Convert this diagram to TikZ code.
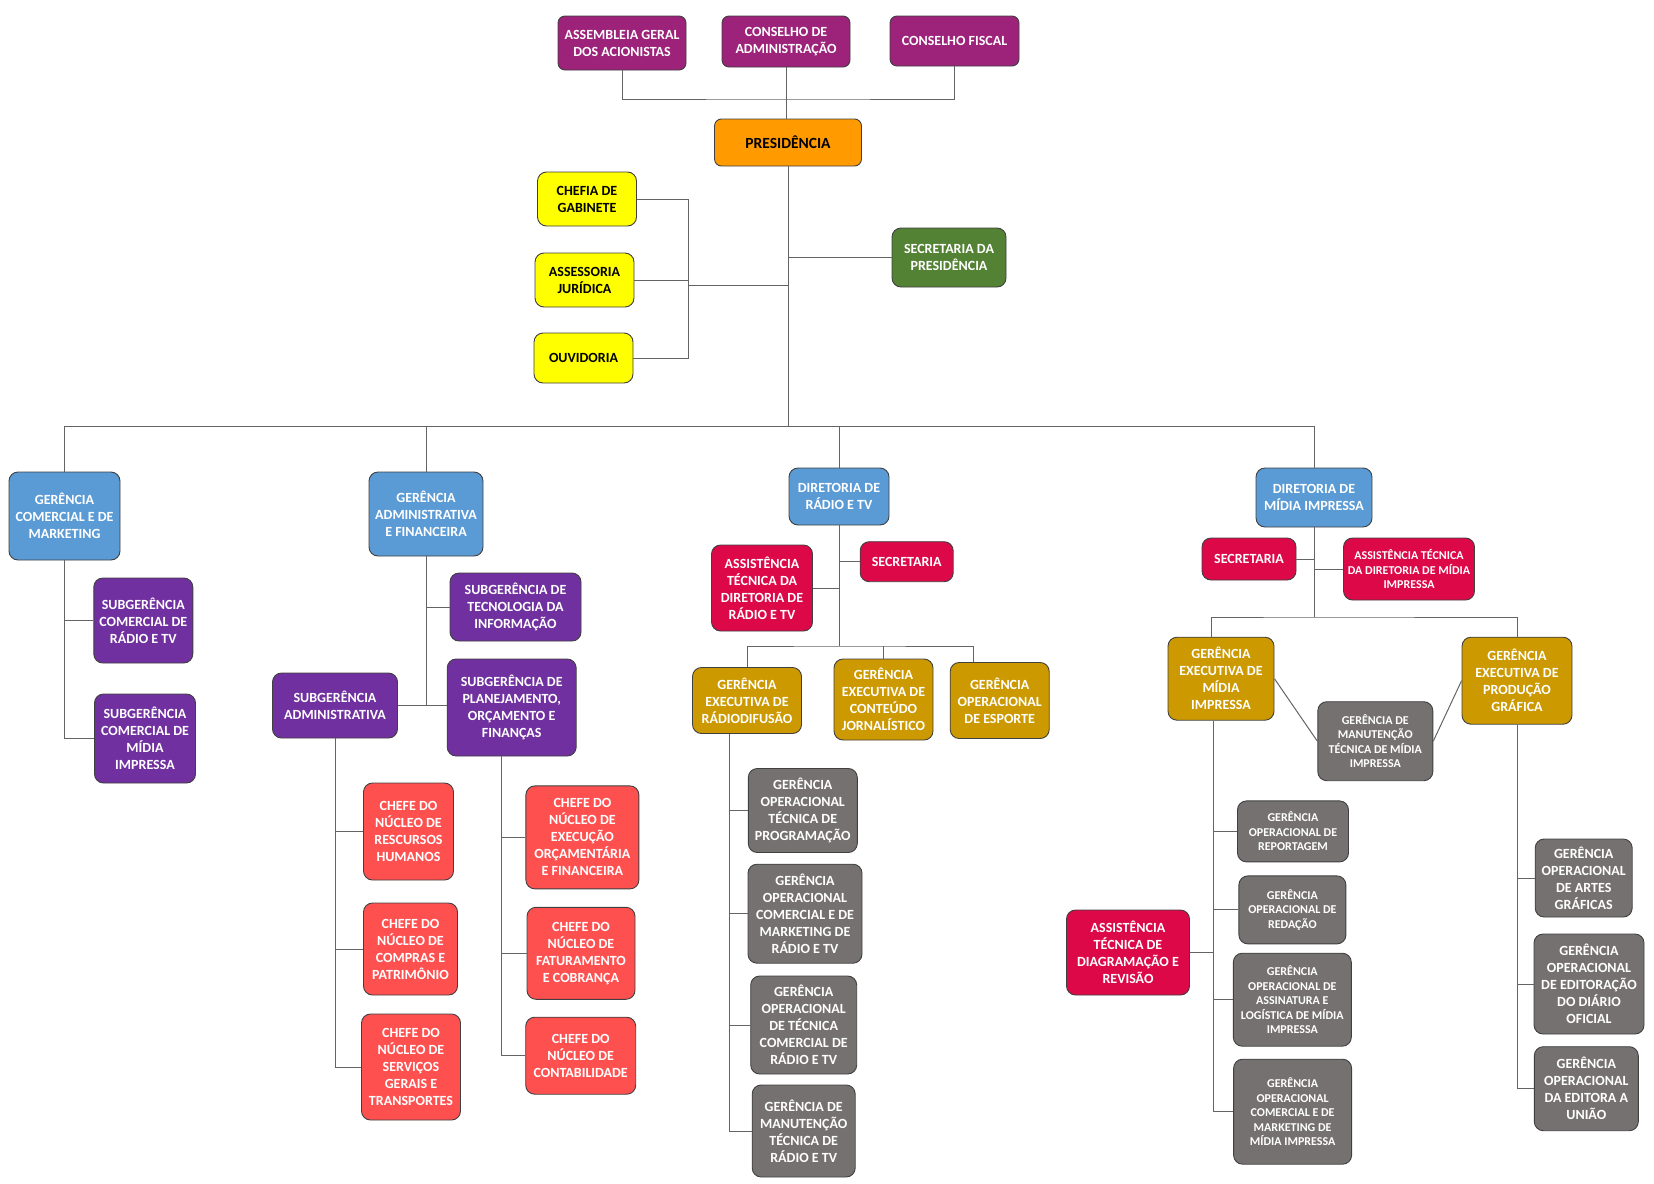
\documentclass[tikz,border=0pt]{standalone}
\usepackage{fontspec}
\setmainfont{Carlito}
\definecolor{boardpurple}{RGB}{156,34,122}
\definecolor{presorange}{RGB}{255,154,0}
\definecolor{staffyellow}{RGB}{255,255,0}
\definecolor{secgreen}{RGB}{84,130,53}
\definecolor{dirblue}{RGB}{91,155,213}
\definecolor{subviolet}{RGB}{112,48,160}
\definecolor{chiefred}{RGB}{255,80,80}
\definecolor{assistcrimson}{RGB}{220,8,72}
\definecolor{execgold}{RGB}{204,153,0}
\definecolor{opergray}{RGB}{118,113,113}
\definecolor{edgegray}{RGB}{64,64,64}
\definecolor{linegray}{RGB}{100,100,100}
\usepackage{tikz}

\begin{document}
\begin{tikzpicture}[x=1pt,y=-1pt,
  box/.style={draw=edgegray,line width=0.9pt,rounded corners=9pt,align=center,text=white,inner sep=1pt,
    font=\bfseries\fontsize{14}{17}\selectfont},
  small/.style={font=\bfseries\fontsize{12}{14.5}\selectfont},
  sz/.style 2 args={minimum width=#1pt,minimum height=#2pt},
  boardbox/.style={box,fill=boardpurple,rounded corners=7pt},
  presbox/.style={box,fill=presorange,text=black,rounded corners=7pt,font=\bfseries\fontsize{15.5}{18}\selectfont},
  staffbox/.style={box,fill=staffyellow,text=black},
  secbox/.style={box,fill=secgreen},
  dirbox/.style={box,fill=dirblue},
  subbox/.style={box,fill=subviolet},
  chiefbox/.style={box,fill=chiefred},
  assistbox/.style={box,fill=assistcrimson},
  execbox/.style={box,fill=execgold},
  operbox/.style={box,fill=opergray},
  link/.style={draw=linegray,line width=1pt}]
\useasboundingbox (0,0) rectangle (1654,1183);

% conselhos e presidencia
\node[boardbox,sz={128}{54}] (assembleia) at (622,43) {ASSEMBLEIA GERAL\\DOS ACIONISTAS};
\node[boardbox,sz={128}{51}] (conselhoadm) at (786,41.5) {CONSELHO DE\\ADMINISTRAÇÃO};
\node[boardbox,sz={129}{50}] (conselhofiscal) at (954.5,41) {CONSELHO FISCAL};
\node[presbox,sz={147}{47}] (presid) at (788,142.5) {PRESIDÊNCIA};
\node[staffbox,sz={99}{54}] (chefia) at (587,199) {CHEFIA DE\\GABINETE};
\node[staffbox,sz={99}{54}] (assessoria) at (584.5,280) {ASSESSORIA\\JURÍDICA};
\node[staffbox,sz={99}{50}] (ouvidoria) at (583.5,358) {OUVIDORIA};
\node[secbox,sz={114}{59}] (secpres) at (949,257.5) {SECRETARIA DA\\PRESIDÊNCIA};

% primeiro nivel
\node[dirbox,sz={111}{88}] (gcm) at (64.5,516) {GERÊNCIA\\COMERCIAL E DE\\MARKETING};
\node[dirbox,sz={114}{84}] (gaf) at (426,514) {GERÊNCIA\\ADMINISTRATIVA\\E FINANCEIRA};
\node[dirbox,sz={100}{57}] (drtv) at (839,496.5) {DIRETORIA DE\\RÁDIO E TV};
\node[dirbox,sz={116}{59}] (dmi) at (1314,497.5) {DIRETORIA DE\\MÍDIA IMPRESSA};

% comercial e administrativa
\node[subbox,sz={99}{85}] (scrtv) at (143.3,620.5) {SUBGERÊNCIA\\COMERCIAL DE\\RÁDIO E TV};
\node[subbox,sz={101}{89}] (scmi) at (145,738.5) {SUBGERÊNCIA\\COMERCIAL DE\\MÍDIA\\IMPRESSA};
\node[subbox,sz={131}{68}] (sti) at (515.5,607) {SUBGERÊNCIA DE\\TECNOLOGIA DA\\INFORMAÇÃO};
\node[subbox,sz={125}{65}] (sa) at (335,705.5) {SUBGERÊNCIA\\ADMINISTRATIVA};
\node[subbox,sz={129}{97}] (spof) at (511.7,707.5) {SUBGERÊNCIA DE\\PLANEJAMENTO,\\ORÇAMENTO E\\FINANÇAS};
\node[chiefbox,sz={90}{97}] (rh) at (408.5,831.5) {CHEFE DO\\NÚCLEO DE\\RESCURSOS\\HUMANOS};
\node[chiefbox,sz={94}{92}] (compras) at (410.5,949) {CHEFE DO\\NÚCLEO DE\\COMPRAS E\\PATRIMÔNIO};
\node[chiefbox,sz={99}{106}] (servicos) at (411,1067) {CHEFE DO\\NÚCLEO DE\\SERVIÇOS\\GERAIS E\\TRANSPORTES};
\node[chiefbox,sz={113}{103}] (execucao) at (582.4,837.4) {CHEFE DO\\NÚCLEO DE\\EXECUÇÃO\\ORÇAMENTÁRIA\\E FINANCEIRA};
\node[chiefbox,sz={108}{92}] (faturamento) at (581,953.3) {CHEFE DO\\NÚCLEO DE\\FATURAMENTO\\E COBRANÇA};
\node[chiefbox,sz={110}{77}] (contab) at (580.7,1055.7) {CHEFE DO\\NÚCLEO DE\\CONTABILIDADE};

% radio e tv
\node[assistbox,sz={101}{86}] (atdrtv) at (762,588) {ASSISTÊNCIA\\TÉCNICA DA\\DIRETORIA DE\\RÁDIO E TV};
\node[assistbox,sz={93}{40}] (secrtv) at (906.7,561.7) {SECRETARIA};
\node[execbox,sz={109}{66}] (ger) at (747,700.5) {GERÊNCIA\\EXECUTIVA DE\\RÁDIODIFUSÃO};
\node[execbox,sz={99}{81}] (gecj) at (883.5,699.5) {GERÊNCIA\\EXECUTIVA DE\\CONTEÚDO\\JORNALÍSTICO};
\node[execbox,sz={99}{76}] (goe) at (999.7,700.5) {GERÊNCIA\\OPERACIONAL\\DE ESPORTE};
\node[operbox,sz={109}{84}] (gotp) at (802.8,810.5) {GERÊNCIA\\OPERACIONAL\\TÉCNICA DE\\PROGRAMAÇÃO};
\node[operbox,sz={114}{99}] (gocmrtv) at (805,913.7) {GERÊNCIA\\OPERACIONAL\\COMERCIAL E DE\\MARKETING DE\\RÁDIO E TV};
\node[operbox,sz={106}{98}] (gotcrtv) at (803.7,1025) {GERÊNCIA\\OPERACIONAL\\DE TÉCNICA\\COMERCIAL DE\\RÁDIO E TV};
\node[operbox,sz={103}{92}] (gmtrtv) at (803.7,1131) {GERÊNCIA DE\\MANUTENÇÃO\\TÉCNICA DE\\RÁDIO E TV};

% midia impressa
\node[assistbox,sz={94}{42}] (secmi) at (1249,559) {SECRETARIA};
\node[assistbox,small,sz={131}{62}] (atdmi) at (1409,569) {ASSISTÊNCIA TÉCNICA\\DA DIRETORIA DE MÍDIA\\IMPRESSA};
\node[execbox,sz={106}{83}] (gemi) at (1221,678.7) {GERÊNCIA\\EXECUTIVA DE\\MÍDIA\\IMPRESSA};
\node[execbox,sz={110}{87}] (gepg) at (1517,680.7) {GERÊNCIA\\EXECUTIVA DE\\PRODUÇÃO\\GRÁFICA};
\node[operbox,small,sz={115}{79}] (gmtmi) at (1375.3,741.2) {GERÊNCIA DE\\MANUTENÇÃO\\TÉCNICA DE MÍDIA\\IMPRESSA};
\node[operbox,small,sz={111}{61}] (gorep) at (1293,831.4) {GERÊNCIA\\OPERACIONAL DE\\REPORTAGEM};
\node[operbox,small,sz={107}{68}] (gored) at (1292.4,909.9) {GERÊNCIA\\OPERACIONAL DE\\REDAÇÃO};
\node[assistbox,sz={123}{85}] (atdr) at (1128,952.5) {ASSISTÊNCIA\\TÉCNICA DE\\DIAGRAMAÇÃO E\\REVISÃO};
\node[operbox,small,sz={118}{93}] (goalmi) at (1292.3,999.7) {GERÊNCIA\\OPERACIONAL DE\\ASSINATURA E\\LOGÍSTICA DE MÍDIA\\IMPRESSA};
\node[operbox,small,sz={118}{105}] (gocmmi) at (1292.6,1111.7) {GERÊNCIA\\OPERACIONAL\\COMERCIAL E DE\\MARKETING DE\\MÍDIA IMPRESSA};
\node[operbox,sz={97}{78}] (goag) at (1583.7,878) {GERÊNCIA\\OPERACIONAL\\DE ARTES\\GRÁFICAS};
\node[operbox,sz={110}{100}] (goedo) at (1589,984) {GERÊNCIA\\OPERACIONAL\\DE EDITORAÇÃO\\DO DIÁRIO\\OFICIAL};
\node[operbox,sz={104}{84}] (goeu) at (1586.3,1088.7) {GERÊNCIA\\OPERACIONAL\\DA EDITORA A\\UNIÃO};

% ligacoes do topo
\coordinate (boardbus) at (788,99);
\coordinate (mainbus) at (788,426);
\coordinate (staffbar) at (688,285);
\draw[link] (assembleia.south) |- (boardbus) -| (conselhofiscal.south);
\draw[link] (conselhoadm.south) -- (conselhoadm.south |- presid.north);
\draw[link] (presid.south) -- (mainbus);
\draw[link] (chefia.east) -| (staffbar |- ouvidoria.east) -- (ouvidoria.east);
\draw[link] (assessoria.east) -- (assessoria.east -| staffbar);
\draw[link] (staffbar) -- (staffbar -| mainbus);
\draw[link] (secpres.west) -- (secpres.west -| mainbus);
\draw[link] (gcm.north) |- (dmi.north |- mainbus) -- (dmi.north);
\draw[link] (gaf.north) -- (gaf.north |- mainbus);
\draw[link] (drtv.north) -- (drtv.north |- mainbus);

% comercial e administrativa
\draw[link] (gcm.south) |- (scmi.west);
\draw[link] (scrtv.west) -- (scrtv.west -| gcm.south);
\draw[link] (gaf.south) -- (gaf.south |- sa.east);
\draw[link] (sa.east) -- (sa.east -| spof.west);
\draw[link] (sti.west) -- (sti.west -| gaf.south);
\draw[link] (sa.south) |- (servicos.west);
\draw[link] (rh.west) -- (rh.west -| sa.south);
\draw[link] (compras.west) -- (compras.west -| sa.south);
\coordinate (spofstem) at ([xshift=-10pt]spof.south);
\draw[link] (spofstem) |- (contab.west);
\draw[link] (execucao.west) -- (execucao.west -| spofstem);
\draw[link] (faturamento.west) -- (faturamento.west -| spofstem);

% radio e tv
\coordinate (rtvbus) at (839,646);
\coordinate (goetop) at ([xshift=-26pt]goe.north);
\coordinate (gerstem) at ([xshift=-18pt]ger.south);
\draw[link] (drtv.south) -- (rtvbus);
\draw[link] (secrtv.west) -- (secrtv.west -| rtvbus);
\draw[link] (atdrtv.east) -- (atdrtv.east -| rtvbus);
\draw[link] (ger.north) |- (rtvbus) -| (goetop);
\draw[link] (gecj.north) -- (gecj.north |- rtvbus);
\draw[link] (gerstem) |- (gmtrtv.west);
\draw[link] (gotp.west) -- (gotp.west -| gerstem);
\draw[link] (gocmrtv.west) -- (gocmrtv.west -| gerstem);
\draw[link] (gotcrtv.west) -- (gotcrtv.west -| gerstem);

% midia impressa
\coordinate (mibus) at (1314,617);
\coordinate (gemitop) at ([xshift=-10pt]gemi.north);
\coordinate (gemistem) at ([xshift=-8pt]gemi.south);
\draw[link] (dmi.south) -- (mibus);
\draw[link] (secmi.east) -- (secmi.east -| mibus);
\draw[link] (atdmi.west) -- (atdmi.west -| mibus);
\draw[link] (gemitop) |- (mibus) -| (gepg.north);
\draw[link] (gemi.east) -- (gmtmi.west);
\draw[link] (gmtmi.east) -- (gepg.west);
\draw[link] (gemistem) |- (gocmmi.west);
\draw[link] (gorep.west) -- (gorep.west -| gemistem);
\draw[link] (gored.west) -- (gored.west -| gemistem);
\draw[link] (goalmi.west) -- (goalmi.west -| gemistem);
\draw[link] (atdr.east) -- (atdr.east -| gemistem);
\draw[link] (gepg.south) |- (goeu.west);
\draw[link] (goag.west) -- (goag.west -| gepg.south);
\draw[link] (goedo.west) -- (goedo.west -| gepg.south);
\end{tikzpicture}
\end{document}
